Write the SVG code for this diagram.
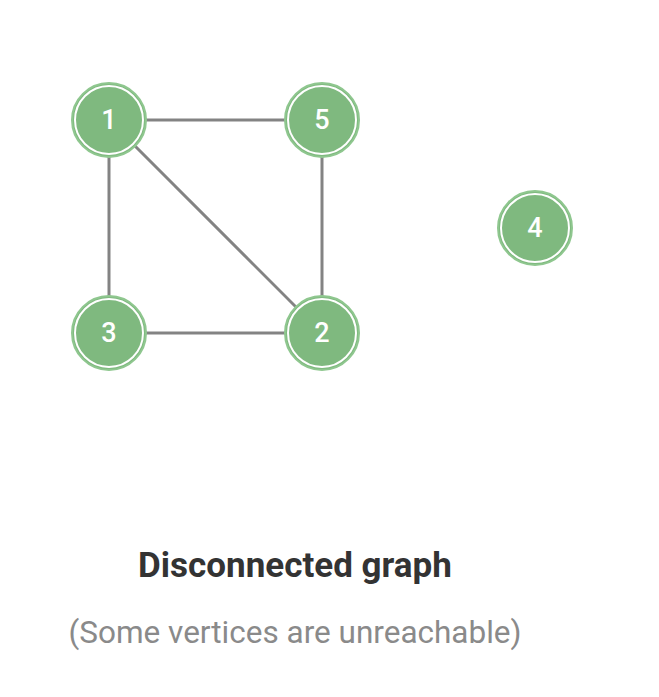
<svg xmlns="http://www.w3.org/2000/svg" width="659" height="697" viewBox="0 0 659 697">
<style>
.edge{stroke:#838383;stroke-width:3;fill:none}
.node{fill:#7fb97f;stroke:#8fc78f;stroke-width:2}
.ring{fill:none;stroke:#ffffff;stroke-width:2}
.lbl{font-family:Roboto,"Liberation Sans",sans-serif;font-size:27px;font-weight:500;fill:#ffffff;text-anchor:middle;dominant-baseline:central}
.title{font-family:Roboto,"Liberation Sans",sans-serif;font-size:35px;font-weight:bold;fill:#333333;text-anchor:middle}
.sub{font-family:Roboto,"Liberation Sans",sans-serif;font-size:31.5px;fill:#8a8a8a;text-anchor:middle}
</style>
<rect width="659" height="697" fill="#ffffff"/>
<g id="edges">
<line class="edge" x1="109" y1="120" x2="322" y2="120"/>
<line class="edge" x1="109" y1="120" x2="109" y2="333"/>
<line class="edge" x1="109" y1="120" x2="322" y2="333"/>
<line class="edge" x1="322" y1="120" x2="322" y2="333"/>
<line class="edge" x1="109" y1="333" x2="322" y2="333"/>
</g>
<g id="node1"><circle class="node" cx="109" cy="120" r="37"/><circle class="ring" cx="109" cy="120" r="34"/><text class="lbl" x="109" y="120">1</text></g>
<g id="node5"><circle class="node" cx="322" cy="120" r="37"/><circle class="ring" cx="322" cy="120" r="34"/><text class="lbl" x="322" y="120">5</text></g>
<g id="node3"><circle class="node" cx="109" cy="333" r="37"/><circle class="ring" cx="109" cy="333" r="34"/><text class="lbl" x="109" y="333">3</text></g>
<g id="node2"><circle class="node" cx="322" cy="333" r="37"/><circle class="ring" cx="322" cy="333" r="34"/><text class="lbl" x="322" y="333">2</text></g>
<g id="node4"><circle class="node" cx="535" cy="228" r="37"/><circle class="ring" cx="535" cy="228" r="34"/><text class="lbl" x="535" y="228">4</text></g>
<text class="title" x="295" y="577">Disconnected graph</text>
<text class="sub" x="295" y="643">(Some vertices are unreachable)</text>
</svg>
